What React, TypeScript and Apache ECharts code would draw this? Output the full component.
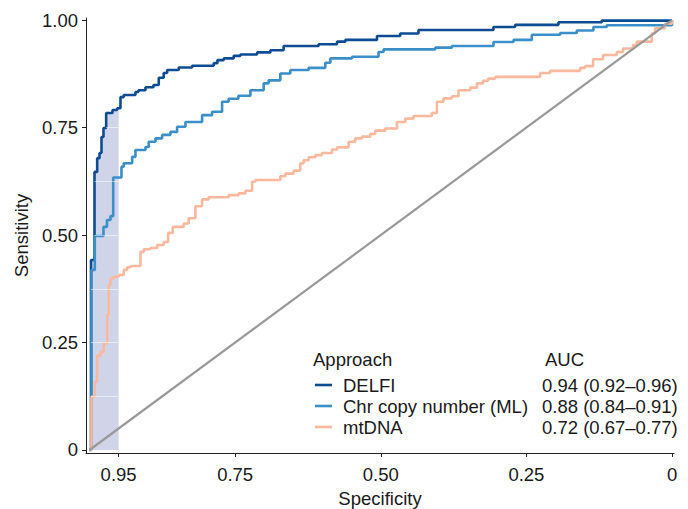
import React, { useEffect, useRef } from 'react';
import * as echarts from 'echarts';

// ---- data (specificity, sensitivity) ----
const delfiSpec = [1, 0.9974, 0.9914, 0.9868, 0.9828, 0.9794, 0.976, 0.9714, 0.9605, 0.9525, 0.9468, 0.9412, 0.9211, 0.916, 0.9039, 0.8902, 0.8811, 0.8726, 0.8667, 0.8468, 0.8238, 0.7868, 0.7804, 0.7696, 0.7525, 0.741, 0.7123, 0.6895, 0.6667, 0.6067, 0.5751, 0.5609, 0.5065, 0.4666, 0.4352, 0.3065, 0.2693, 0.195, 0.1206, 0];
const delfiSens = [0, 0.442, 0.647, 0.679, 0.691, 0.728, 0.749, 0.784, 0.791, 0.795, 0.821, 0.826, 0.833, 0.837, 0.844, 0.849, 0.866, 0.877, 0.884, 0.89, 0.894, 0.9, 0.907, 0.911, 0.917, 0.92, 0.925, 0.93, 0.94, 0.944, 0.95, 0.954, 0.963, 0.969, 0.977, 0.984, 0.989, 0.995, 0.999, 1];

const chrSpec = [1, 0.9966, 0.9909, 0.976, 0.97, 0.964, 0.9593, 0.9451, 0.9412, 0.9268, 0.9211, 0.9039, 0.8983, 0.8868, 0.8753, 0.8611, 0.8496, 0.8353, 0.8067, 0.7895, 0.7724, 0.7611, 0.7444, 0.7238, 0.701, 0.6925, 0.6724, 0.6552, 0.6238, 0.5952, 0.5866, 0.5494, 0.5038, 0.4952, 0.4065, 0.3779, 0.3065, 0.2722, 0.2407, 0.1921, 0.1635, 0.135, 0.112, 0];
const chrSens = [0, 0.419, 0.498, 0.519, 0.535, 0.544, 0.634, 0.659, 0.667, 0.682, 0.698, 0.705, 0.717, 0.725, 0.733, 0.74, 0.752, 0.763, 0.779, 0.787, 0.81, 0.817, 0.824, 0.837, 0.853, 0.86, 0.876, 0.884, 0.889, 0.901, 0.911, 0.915, 0.926, 0.932, 0.936, 0.94, 0.949, 0.954, 0.966, 0.97, 0.976, 0.984, 0.988, 1];

const mtSpec = [1, 0.9966, 0.9909, 0.9868, 0.9811, 0.9755, 0.9696, 0.9669, 0.964, 0.9583, 0.9497, 0.9412, 0.9353, 0.9297, 0.9125, 0.9069, 0.8954, 0.8839, 0.8726, 0.865, 0.8571, 0.8383, 0.8297, 0.8182, 0.8067, 0.7954, 0.7611, 0.7439, 0.7324, 0.7209, 0.7153, 0.6724, 0.6638, 0.6496, 0.6381, 0.6324, 0.6238, 0.6123, 0.6009, 0.5837, 0.5751, 0.5552, 0.5437, 0.5322, 0.518, 0.5094, 0.4923, 0.4722, 0.458, 0.4437, 0.4122, 0.4036, 0.3923, 0.3779, 0.3665, 0.3465, 0.335, 0.3242, 0.3156, 0.3036, 0.2264, 0.2093, 0.1578, 0.1492, 0.1355, 0.1184, 0.0949, 0.084, 0.0669, 0.0606, 0.0348, 0.0292, 0.012, 0];
const mtSens = [0, 0.124, 0.159, 0.219, 0.228, 0.248, 0.314, 0.384, 0.399, 0.403, 0.407, 0.419, 0.425, 0.428, 0.461, 0.467, 0.47, 0.477, 0.484, 0.505, 0.519, 0.527, 0.539, 0.567, 0.583, 0.588, 0.593, 0.597, 0.603, 0.624, 0.628, 0.637, 0.643, 0.65, 0.667, 0.674, 0.681, 0.686, 0.691, 0.699, 0.704, 0.717, 0.725, 0.729, 0.735, 0.743, 0.748, 0.763, 0.771, 0.777, 0.784, 0.81, 0.818, 0.823, 0.837, 0.843, 0.853, 0.859, 0.864, 0.868, 0.877, 0.882, 0.889, 0.893, 0.909, 0.919, 0.926, 0.934, 0.942, 0.95, 0.969, 0.981, 0.992, 1];

const approaches = ['DELFI', 'Chr copy number (ML)', 'mtDNA'];
const aucLabels = ['0.94 (0.92\u20130.96)', '0.88 (0.84\u20130.91)', '0.72 (0.67\u20130.77)'];
const seriesColors = ['#0d4c92', '#3a8fc8', '#fcb89c'];

const xTickValues = [0.95, 0.75, 0.5, 0.25, 0];
const xTickLabels = ['0.95', '0.75', '0.50', '0.25', '0'];
const yTickValues = [0, 0.25, 0.5, 0.75, 1];
const yTickLabels = ['0', '0.25', '0.50', '0.75', '1.00'];
const shadeGridValues = [0.125, 0.25, 0.375, 0.5, 0.625, 0.75];
const pAucLimit = 0.95;

const FONT = '"Liberation Sans", Arial, Helvetica, sans-serif';
const FS = 18.5;
const TXT = '#1a1a1a';

const pair = (a: number[], b: number[]) => a.map((v, i) => [v, b[i]]);
const lookup = (vals: number[], labels: string[]) => (v: number) => {
  const i = vals.findIndex((t) => Math.abs(t - v) < 1e-6);
  return i >= 0 ? labels[i] : '';
};

export default function App() {
  const ref = useRef<HTMLDivElement>(null);
  useEffect(() => {
    const chart = echarts.init(ref.current!, null, { renderer: 'svg' });
    const curves = [pair(delfiSpec, delfiSens), pair(chrSpec, chrSens), pair(mtSpec, mtSens)];

    const shade: number[][] = [];
    delfiSpec.forEach((s, i) => {
      if (s > pAucLimit) shade.push([s, delfiSens[i]]);
    });
    shade.push([pAucLimit, shade[shade.length - 1][1]]);

    const gridSegs = shadeGridValues
      .map((g) => {
        const j = delfiSens.findIndex((s) => s >= g);
        return [{ coord: [delfiSpec[j], g] }, { coord: [pAucLimit, g] }];
      })
      .filter((seg) => seg[0].coord[0] > pAucLimit);

    const lineSeries = curves.map((d, k) => ({
      type: 'line',
      name: approaches[k],
      data: d,
      step: 'end',
      showSymbol: false,
      symbol: 'none',
      lineStyle: { color: seriesColors[k], width: 2.6 },
      silent: true,
    }));

    const legendEls: any[] = [
      { type: 'text', style: { text: 'Approach', x: 313, y: 359, fontSize: FS, fontFamily: FONT, fill: TXT, verticalAlign: 'middle' } },
      { type: 'text', style: { text: 'AUC', x: 545, y: 359, fontSize: FS, fontFamily: FONT, fill: TXT, verticalAlign: 'middle' } },
    ];
    approaches.forEach((name, k) => {
      const y = 385 + k * 21;
      legendEls.push({ type: 'line', shape: { x1: 315, y1: y, x2: 332, y2: y }, style: { stroke: seriesColors[k], lineWidth: 2.6 } });
      legendEls.push({ type: 'text', style: { text: name, x: 343, y, fontSize: FS, fontFamily: FONT, fill: TXT, verticalAlign: 'middle' } });
      legendEls.push({ type: 'text', style: { text: aucLabels[k], x: 542, y, fontSize: FS, fontFamily: FONT, fill: TXT, verticalAlign: 'middle' } });
    });

    chart.setOption({
      animation: false,
      backgroundColor: '#ffffff',
      grid: { left: 86, right: 14, top: 18, bottom: 56, containLabel: false, outerBoundsMode: 'none' },
      xAxis: {
        type: 'value',
        inverse: true,
        min: -0.0034,
        max: 1.006,
        name: 'Specificity',
        nameLocation: 'middle',
        nameGap: 35,
        nameTextStyle: { fontSize: FS, fontFamily: FONT, color: TXT },
        axisLine: { show: true, onZero: false, lineStyle: { color: '#222', width: 1 } },
        axisTick: { show: true, length: 4, customValues: xTickValues, lineStyle: { color: '#222', width: 1 } },
        axisLabel: { customValues: xTickValues, formatter: lookup(xTickValues, xTickLabels), fontSize: FS, fontFamily: FONT, color: TXT, margin: 12 },
        splitLine: { show: false },
      },
      yAxis: {
        type: 'value',
        min: -0.007,
        max: 1.005,
        name: 'Sensitivity',
        nameLocation: 'middle',
        nameGap: 53,
        nameTextStyle: { fontSize: FS, fontFamily: FONT, color: TXT },
        axisLine: { show: true, onZero: false, lineStyle: { color: '#222', width: 1 } },
        axisTick: { show: true, length: 4, customValues: yTickValues, lineStyle: { color: '#222', width: 1 } },
        axisLabel: { customValues: yTickValues, formatter: lookup(yTickValues, yTickLabels), fontSize: FS, fontFamily: FONT, color: TXT, margin: 8 },
        splitLine: { show: false },
      },
      series: [
        ...lineSeries,
        {
          type: 'line',
          data: [[1, 0], [0, 1]],
          showSymbol: false,
          symbol: 'none',
          lineStyle: { color: '#999999', width: 2.2 },
          silent: true,
        },
        {
          type: 'line',
          data: shade,
          step: 'end',
          showSymbol: false,
          symbol: 'none',
          lineStyle: { width: 0, opacity: 0 },
          areaStyle: { color: 'rgba(60,75,160,0.34)', origin: 'auto' },
          silent: true,
          markLine: {
            silent: true,
            symbol: ['none', 'none'],
            label: { show: false },
            lineStyle: { color: 'rgba(255,255,255,0.5)', width: 1, type: 'solid' },
            data: gridSegs,
          },
        },
      ],
      graphic: legendEls,
    });
    return () => chart.dispose();
  }, []);
  return <div ref={ref} style={{ position: 'absolute', left: 0, top: 0, width: 688, height: 509 }} />;
}
